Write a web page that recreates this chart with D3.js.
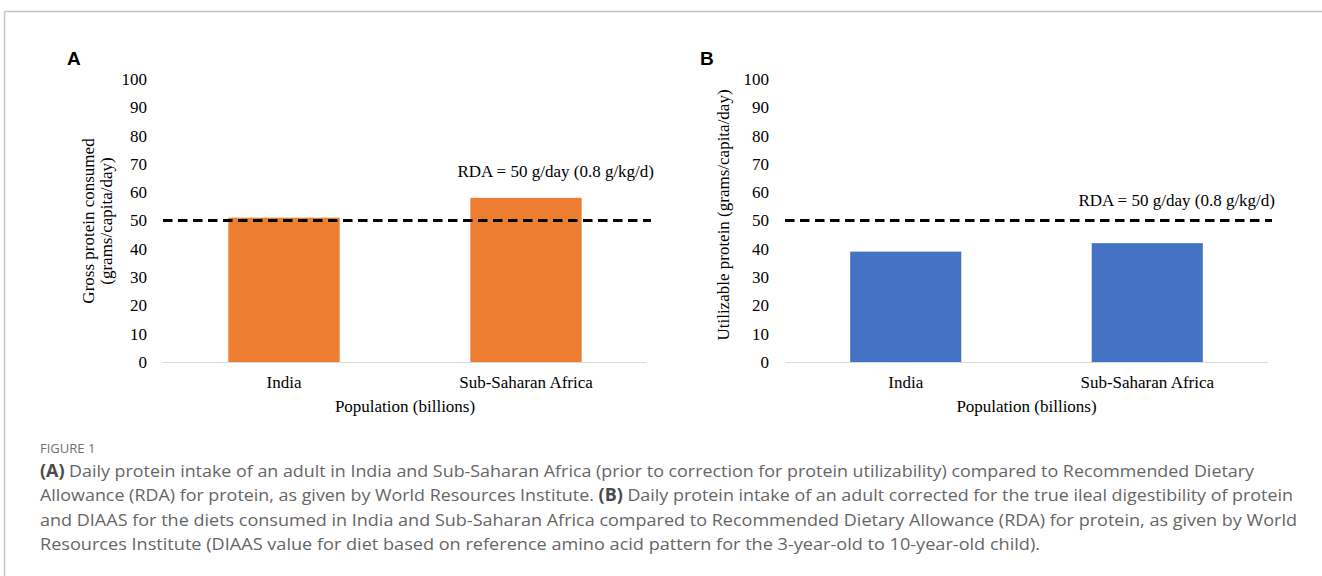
<!DOCTYPE html>
<html>
<head>
<meta charset="utf-8">
<script src="https://cdn.jsdelivr.net/npm/d3@7"></script>
<style>
  html, body { margin: 0; padding: 0; background: #fff; }
  svg { display: block; }
</style>
</head>
<body>
<svg id="chart" width="1322" height="576"></svg>
<script>
// ---- data ----
const categories = ["India", "Sub-Saharan Africa"];
const grossProtein = [51, 58];
const utilizableProtein = [39, 42];
const rdaValue = 50;
const rdaLabel = "RDA = 50 g/day (0.8 g/kg/d)";
const yTicks = [0, 10, 20, 30, 40, 50, 60, 70, 80, 90, 100];
const xAxisTitle = "Population (billions)";
const titleA = ["Gross protein consumed", "(grams/capita/day)"];
const titleB = ["Utilizable protein (grams/capita/day)"];
const figureLabel = "FIGURE 1";
const captionLines = [
  [["(A)", true], [" Daily protein intake of an adult in India and Sub-Saharan Africa (prior to correction for protein utilizability) compared to Recommended Dietary", false]],
  [["Allowance (RDA) for protein, as given by World Resources Institute. ", false], ["(B)", true], [" Daily protein intake of an adult corrected for the true ileal digestibility of protein", false]],
  [["and DIAAS for the diets consumed in India and Sub-Saharan Africa compared to Recommended Dietary Allowance (RDA) for protein, as given by World", false]],
  [["Resources Institute (DIAAS value for diet based on reference amino acid pattern for the 3-year-old to 10-year-old child).", false]]
];

const svg = d3.select("#chart");
const SERIF = "'Liberation Serif', 'Times New Roman', serif";
const SANS = "'Open Sans', 'Noto Sans', sans-serif";

// frame lines
svg.append("line").attr("x1", 4.5).attr("x2", 1322).attr("y1", 11.5).attr("y2", 11.5)
  .attr("stroke", "#c4c4c4").attr("stroke-width", 1.5);
svg.append("line").attr("x1", 4.5).attr("x2", 4.5).attr("y1", 11.5).attr("y2", 576)
  .attr("stroke", "#c4c4c4").attr("stroke-width", 1.5);

function panel(cfg) {
  const g = svg.append("g");
  const y = d3.scaleLinear().domain([0, 100]).range([362, 79]);
  const x = d3.scaleBand().domain(categories).range([cfg.x0, cfg.x1])
    .paddingInner(0.54).paddingOuter(0.27);

  // panel letter
  g.append("text").attr("x", cfg.letterX).attr("y", 65)
    .attr("font-family", "'Liberation Sans', Arial, sans-serif").attr("font-weight", "bold")
    .attr("font-size", 19).attr("fill", "#000").text(cfg.letter);

  // y tick labels
  const yAxis = d3.axisLeft(y).tickValues(yTicks).tickSize(0).tickPadding(0);
  const ya = g.append("g").attr("transform", `translate(${cfg.x0 - 16},0)`).call(yAxis);
  ya.select(".domain").remove();
  ya.selectAll("text").attr("font-family", SERIF).attr("font-size", 17).attr("fill", "#000");

  // bars
  g.selectAll("rect.bar").data(cfg.values).join("rect")
    .attr("class", "bar")
    .attr("x", (d, i) => x(categories[i]))
    .attr("width", x.bandwidth())
    .attr("y", d => y(d))
    .attr("height", d => y(0) - y(d))
    .attr("fill", cfg.color);

  // baseline
  g.append("line").attr("x1", cfg.x0).attr("x2", cfg.x1)
    .attr("y1", y(0) + 0.5).attr("y2", y(0) + 0.5)
    .attr("stroke", "#d9d9d9").attr("stroke-width", 1.2);

  // x axis labels
  const xAxis = d3.axisBottom(x).tickSize(0).tickPadding(0);
  const xa = g.append("g").attr("transform", `translate(0,${y(0) + 14})`).call(xAxis);
  xa.select(".domain").remove();
  xa.selectAll("text").attr("font-family", SERIF).attr("font-size", 17).attr("fill", "#000");

  // x axis title
  g.append("text").attr("x", (cfg.x0 + cfg.x1) / 2).attr("y", 412)
    .attr("text-anchor", "middle").attr("font-family", SERIF).attr("font-size", 17)
    .attr("fill", "#000").text(xAxisTitle);

  // y axis title
  const tl = cfg.title.length;
  cfg.title.forEach((line, i) => {
    const cx = cfg.titleX + (i - (tl - 1) / 2) * 18;
    g.append("text")
      .attr("transform", `translate(${cx + 6},${cfg.titleY}) rotate(-90)`)
      .attr("text-anchor", "middle").attr("font-family", SERIF).attr("font-size", 17)
      .attr("fill", "#000").text(line);
  });

  // RDA dashed line
  g.append("line").attr("x1", cfg.x0).attr("x2", cfg.x1 + 4)
    .attr("y1", y(rdaValue)).attr("y2", y(rdaValue))
    .attr("stroke", "#000").attr("stroke-width", 2.8).attr("stroke-dasharray", "9.5,5.5");

  // RDA label
  g.append("text").attr("x", cfg.x1 + 7).attr("y", y(cfg.rdaLabelAt))
    .attr("text-anchor", "end").attr("font-family", SERIF).attr("font-size", 17)
    .attr("fill", "#000").text(rdaLabel);
}

panel({ letter: "A", letterX: 67, x0: 163, x1: 647, values: grossProtein, color: "#ED7D31",
        title: titleA, titleX: 97, titleY: 221, rdaLabelAt: 65.5 });
panel({ letter: "B", letterX: 700, x0: 785, x1: 1268, values: utilizableProtein, color: "#4472C4",
        title: titleB, titleX: 723, titleY: 215, rdaLabelAt: 55 });

// caption
svg.append("text").attr("x", 40).attr("y", 453)
  .attr("font-family", SANS).attr("font-size", 13)
  .attr("fill", "#707070").text(figureLabel);

const capY = [477, 501, 526, 550];
const capFit = [1214, 1253, 1257, 1000];
captionLines.forEach((parts, i) => {
  const t = svg.append("text").attr("x", 40).attr("y", capY[i])
    .attr("font-family", SANS).attr("font-size", 17)
    .attr("fill", "#666");
  parts.forEach(([s, b]) => {
    t.append("tspan").attr("font-weight", b ? 700 : 400).attr("fill", b ? "#4a4a4a" : "#666").text(s);
  });
  if (capFit[i]) t.attr("textLength", capFit[i]).attr("lengthAdjust", "spacingAndGlyphs");
});
</script>
</body>
</html>
